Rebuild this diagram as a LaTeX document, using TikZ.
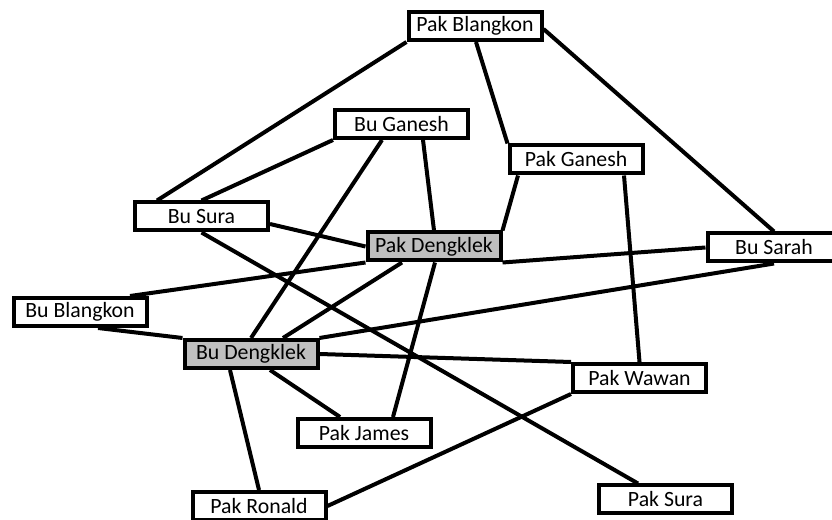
\documentclass[tikz,border=0pt]{standalone}
\usepackage{fontspec}
\setmainfont{Carlito}
\begin{document}
\begin{tikzpicture}[
  person/.style={draw, line width=0.080000cm, minimum width=2.660000cm, minimum height=0.560000cm, inner sep=0pt, fill=white},
  leader/.style={person, fill=black!25},
  link/.style={line width=0.080000cm}]
\useasboundingbox (0,0) rectangle (16.640000,10.400000);
\clip (0,0) rectangle (16.640000,10.400000);
{\fontsize{12.4}{14}\selectfont

% Marking person Pak Blangkon
\node [person] (pakblangkon) at (9.500000,9.880000) {Pak Blangkon};%

% Marking person Bu Ganesh
\node [person] (buganesh) at (8.030000,7.920000) {Bu Ganesh};%

% Marking person Pak Ganesh
\node [person] (pakganesh) at (11.520000,7.210000) {Pak Ganesh};%

% Marking person Bu Sura
\node [person] (busura) at (4.030000,6.070000) {Bu Sura};%

% Marking person Pak Dengklek
\node [leader] (pakdengklek) at (8.680000,5.470000) {Pak Dengklek};%

% Marking person Bu Sarah
\node [person] (busarah) at (15.480000,5.450000) {Bu Sarah};%

% Marking person Bu Blangkon
\node [person] (bublangkon) at (1.600000,4.160000) {Bu Blangkon};%

% Marking person Bu Dengklek
\node [leader] (budengklek) at (5.020000,3.320000) {Bu Dengklek};%

% Marking person Pak James
\node [person] (pakjames) at (7.280000,1.740000) {Pak James};%

% Marking person Pak Wawan
\node [person] (pakwawan) at (12.790000,2.840000) {Pak Wawan};%

% Marking person Pak Ronald
\node [person] (pakronald) at (5.180000,0.280000) {Pak Ronald};%

% Marking person Pak Sura
\node [person] (paksura) at (13.310000,0.410000) {Pak Sura};%

% Drawing links of Pak Blangkon
\draw [link] (pakblangkon.south west) -- ([xshift=-0.890000cm]busura.north);%
\draw [link] ([xshift=0.020000cm]pakblangkon.south) -- (pakganesh.north west);%
\draw [link] ([yshift=-0.060000cm]pakblangkon.east) -- (busarah.north);%

% Drawing links of Bu Ganesh
\draw [link] (buganesh.south west) -- (busura.north);%
\draw [link] ([xshift=0.430000cm]buganesh.south) -- (pakdengklek.north);%
\draw [link] ([xshift=-0.390000cm]buganesh.south) -- (budengklek.north);%

% Drawing links of Pak Ganesh
\draw [link] ([xshift=-1.160000cm]pakganesh.south) -- (pakdengklek.north east);%
\draw [link] ([xshift=0.960000cm]pakganesh.south) -- (pakwawan.north);%

% Drawing links of Bu Sura
\draw [link] ([yshift=-0.150000cm]busura.east) -- (pakdengklek.west);%
\draw [link] (busura.south) -- ([xshift=-0.550000cm]paksura.north);%

% Drawing links of Pak Dengklek
\draw [link] ([xshift=1.000000cm]bublangkon.north) -- (pakdengklek.south west);%
\draw [link] (pakdengklek.south east) -- (busarah.west);%
\draw [link] ([xshift=-0.640000cm]pakdengklek.south) -- ([xshift=0.640000cm]budengklek.north);%
\draw [link] ([xshift=0.020000cm]pakdengklek.south) -- ([xshift=0.580000cm]pakjames.north);%

% Drawing links of Bu Dengklek
\draw [link] (busarah.south) -- (budengklek.north east);%
\draw [link] ([xshift=0.360000cm]bublangkon.south) -- (budengklek.north west);%
\draw [link] (budengklek.east) -- (pakwawan.north west);%
\draw [link] ([xshift=0.380000cm]budengklek.south) -- ([xshift=-0.480000cm]pakjames.north);%
\draw [link] ([xshift=-0.420000cm]budengklek.south) -- (pakronald.north);%

% Drawing link Pak Ronald Pak Wawan
\draw [link] (pakronald.east) -- (pakwawan.south west);%
}
\end{tikzpicture}
\end{document}
